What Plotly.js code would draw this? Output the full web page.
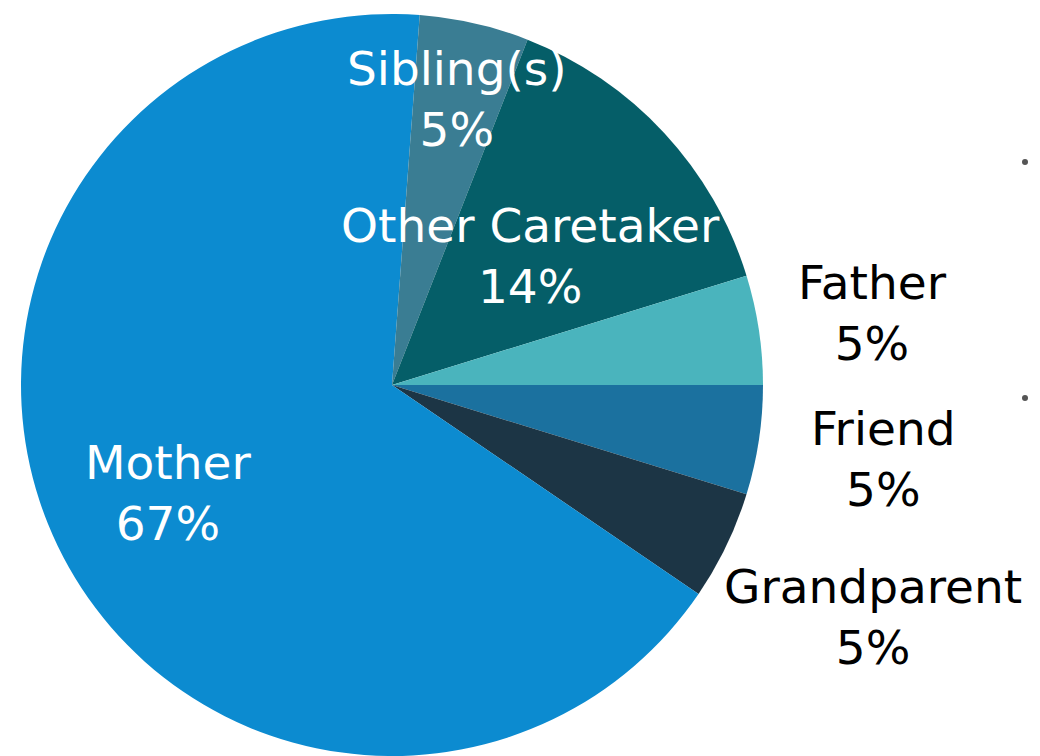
<!DOCTYPE html>
<html>
<head>
<meta charset="utf-8">
<script src="https://cdn.plot.ly/plotly-3.0.1.min.js"></script>
<style>
  html, body { margin: 0; padding: 0; background: #ffffff; }
  #chart { width: 1040px; height: 756px; }
</style>
</head>
<body>
<div id="chart"></div>
<script>
// respondents by relationship (n = 21), clockwise from 3 o'clock
const labels = ['Friend', 'Grandparent', 'Mother', 'Sibling(s)', 'Other Caretaker', 'Father'];
const counts = [1, 1, 14, 1, 3, 1];
const colors = ['#1B719F', '#1C3545', '#0C8BD0', '#3A7D93', '#055E68', '#4AB4BD'];

// label styling: distance from centre as a fraction of radius, and colour
const labelDist = [1.34, 1.44, 0.67, 0.79, 0.51, 1.31];
const labelColor = ['#000000', '#000000', '#ffffff', '#ffffff', '#ffffff', '#000000'];

const W = 1040, H = 756;
const domX = [0, 784 / W];
const domY = [0, 1 - 14 / H];
const rotation = 90;

const total = counts.reduce((a, b) => a + b, 0);
const pct = counts.map(v => Math.round(v / total * 100));

const pie = {
  type: 'pie',
  labels: labels,
  values: counts,
  sort: false,
  direction: 'clockwise',
  rotation: rotation,
  textinfo: 'none',
  hoverinfo: 'label+percent',
  marker: { colors: colors, line: { width: 0 } },
  domain: { x: domX, y: domY },
  showlegend: false
};

// pie geometry in pixels, from the domain
const dw = (domX[1] - domX[0]) * W, dh = (domY[1] - domY[0]) * H;
const r = Math.min(dw, dh) / 2;
const cx = (domX[0] + domX[1]) / 2 * W;
const cy = H - (domY[0] + domY[1]) / 2 * H;

const annotations = [];
let acc = 0;
for (let i = 0; i < labels.length; i++) {
  const mid = (rotation + (acc + counts[i] / 2) / total * 360) * Math.PI / 180;
  acc += counts[i];
  const px = cx + labelDist[i] * r * Math.sin(mid);
  const py = cy - labelDist[i] * r * Math.cos(mid);
  annotations.push({
    xref: 'paper', yref: 'paper',
    x: px / W, y: 1 - py / H,
    xanchor: 'center', yanchor: 'middle',
    text: labels[i] + '<br>' + pct[i] + '%',
    showarrow: false,
    align: 'center',
    font: { family: 'DejaVu Sans, sans-serif', size: 47, color: labelColor[i] }
  });
}

const layout = {
  width: W,
  height: H,
  margin: { l: 0, r: 0, t: 0, b: 0 },
  paper_bgcolor: '#ffffff',
  annotations: annotations,
  shapes: [
    { type: 'circle', xref: 'paper', yref: 'paper', x0: 1022 / W, x1: 1028 / W, y0: 1 - 165 / H, y1: 1 - 159 / H, fillcolor: '#555555', line: { width: 0 } },
    { type: 'circle', xref: 'paper', yref: 'paper', x0: 1022 / W, x1: 1028 / W, y0: 1 - 401 / H, y1: 1 - 395 / H, fillcolor: '#555555', line: { width: 0 } }
  ]
};

Plotly.newPlot('chart', [pie], layout, { displayModeBar: false, staticPlot: true });
</script>
</body>
</html>
